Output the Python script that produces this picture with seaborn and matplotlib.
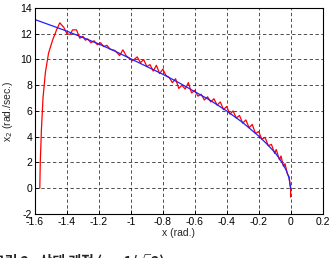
import matplotlib
matplotlib.use("Agg")
import matplotlib.pyplot as plt
import seaborn as sns
import pandas as pd

# Blue reference curve (sliding surface)
blue_x = [-1.6, -1.5, -1.4, -1.3, -1.2, -1.1, -1.0, -0.9, -0.8, -0.7, -0.6, -0.5, -0.4,
          -0.3, -0.2, -0.15, -0.1, -0.07, -0.05, -0.03, -0.02, -0.01, 0.0]
blue_y = [13.1, 12.65, 12.2, 11.7, 11.2, 10.65, 10.05, 9.45, 8.85, 8.2, 7.5, 6.8, 6.0,
          5.1, 4.05, 3.45, 2.8, 2.3, 1.9, 1.45, 1.15, 0.8, 0.0]

# Red state trajectory
red_x = [-1.57, -1.567, -1.56, -1.55, -1.535, -1.515, -1.49, -1.465, -1.445, -1.42, -1.40,
         -1.38, -1.365, -1.34, -1.32, -1.30, -1.285, -1.27, -1.25, -1.23, -1.21, -1.19,
         -1.17, -1.15, -1.13, -1.10, -1.07, -1.05, -1.03, -1.01, -0.99, -0.96, -0.94,
         -0.92, -0.90, -0.88, -0.86, -0.84, -0.82, -0.80, -0.78, -0.76, -0.74, -0.72,
         -0.70, -0.68, -0.66, -0.64, -0.62, -0.60, -0.58, -0.56, -0.54, -0.52, -0.50,
         -0.48, -0.46, -0.44, -0.42, -0.40, -0.38, -0.36, -0.34, -0.32, -0.30, -0.28,
         -0.26, -0.24, -0.22, -0.20, -0.18, -0.16, -0.14, -0.12, -0.10, -0.09, -0.07,
         -0.06, -0.045, -0.035, -0.02, -0.01, 0.0, 0.0]
red_y = [0.0, 2.0, 4.5, 7.0, 9.0, 10.5, 11.5, 12.3, 12.85, 12.5, 12.0,
         11.95, 12.3, 12.3, 11.65, 11.8, 11.5, 11.6, 11.3, 11.45, 11.15, 11.3,
         11.0, 11.1, 10.8, 10.7, 10.3, 10.75, 10.3, 10.1, 9.9, 10.2, 9.75,
         10.0, 9.45, 9.6, 9.1, 9.55, 8.9, 9.25, 8.75, 8.6, 8.2, 8.5,
         7.75, 8.0, 7.7, 8.2, 7.4, 7.6, 7.15, 7.3, 6.85, 7.1, 6.7,
         6.95, 6.45, 6.7, 6.1, 6.35, 5.75, 6.0, 5.45, 5.65, 5.05, 5.3,
         4.7, 4.95, 4.25, 4.4, 3.8, 3.95, 3.3, 3.4, 2.7, 3.0, 2.2,
         2.5, 1.7, 1.9, 1.1, 0.9, 0.0, -0.7]

x_ticks = [-1.6, -1.4, -1.2, -1.0, -0.8, -0.6, -0.4, -0.2, 0.0, 0.2]
x_tick_labels = ["-1.6", "-1.4", "-1.2", "-1", "-0.8", "-0.6", "-0.4", "-0.2", "0", "0.2"]
y_ticks = [-2, 0, 2, 4, 6, 8, 10, 12, 14]
y_tick_labels = ["-2", "0", "2", "4", "6", "8", "10", "12", "14"]

sns.set_style("ticks")
plt.rcParams['font.family'] = ['Liberation Sans', 'DejaVu Sans']

fig = plt.figure(figsize=(3.29, 2.58), dpi=100)
ax = fig.add_axes([0.1064, 0.171, 0.874, 0.798])

red_df = pd.DataFrame({"x": red_x, "y": red_y})
blue_df = pd.DataFrame({"x": blue_x, "y": blue_y})
sns.lineplot(data=red_df, x="x", y="y", sort=False, estimator=None, color="#ff0000",
             linewidth=0.9, ax=ax)
sns.lineplot(data=blue_df, x="x", y="y", sort=False, estimator=None, color="#2020ff",
             linewidth=0.9, ax=ax)

ax.set_xlim(-1.6, 0.2)
ax.set_ylim(-2, 14)
ax.set_xticks(x_ticks)
ax.set_xticklabels(x_tick_labels)
ax.set_yticks(y_ticks)
ax.set_yticklabels(y_tick_labels)
ax.tick_params(direction="in", length=3, width=0.6, labelsize=7.5, pad=2, colors="black")
ax.grid(True, color="black", linestyle=(0, (4, 3)), linewidth=0.6, alpha=0.8)
for s in ax.spines.values():
    s.set_color("black")
    s.set_linewidth(0.8)
ax.set_xlabel("x (rad.)", fontsize=7.5, labelpad=1)
ax.set_ylabel("x$_2$ (rad./sec.)", fontsize=7.5, labelpad=4)

fig.text(-0.025, -0.03, "그림 2.  상태 궤적 (c = 1/√2)", fontsize=10, fontweight="bold",
         family=['Noto Sans CJK KR', 'DejaVu Sans'], va="baseline", ha="left")

fig.savefig("out.png", dpi=100)
